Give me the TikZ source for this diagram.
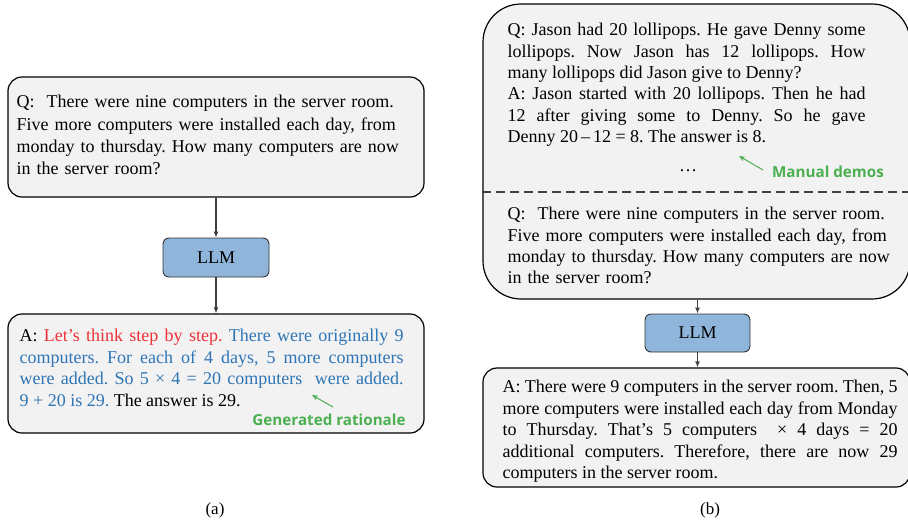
\documentclass[tikz,border=0pt]{standalone}
\usepackage{fontspec}
\setmainfont{Liberation Serif}
\newfontfamily\notefont{Open Sans}[BoldFont={* Bold}]
\usetikzlibrary{arrows.meta,positioning}
\frenchspacing

\definecolor{BoxColor}{RGB}{242,242,242}
\definecolor{LLMColor}{RGB}{143,181,219}
\definecolor{StepRed}{RGB}{237,50,55}
\definecolor{RatBlue}{RGB}{46,117,182}
\definecolor{NoteGreen}{RGB}{76,175,80}
\definecolor{LineGray}{RGB}{64,64,64}

\tikzset{
	textbox/.style={draw=black, fill=BoxColor, line width=1.2pt, rounded corners=14pt},
	llmbox/.style={draw=black!80, fill=LLMColor, line width=0.9pt, rounded corners=6pt,
		minimum width=106pt, minimum height=39pt, font=\fontsize{18}{20}\selectfont},
	bodytext/.style={inner sep=0pt, anchor=north west, font=\fontsize{18}{#1}\selectfont},
	bodytext/.default=21.7,
	flow/.style={-{Latex[length=6pt,width=5pt]}, draw=LineGray, line width=1.2pt},
	note/.style={font=\notefont\bfseries\fontsize{15.2}{17}\selectfont, text=NoteGreen, inner sep=0pt},
	notearrow/.style={-{Stealth[length=6pt,width=5pt]}, draw=NoteGreen, line width=1pt},
	caption/.style={font=\fontsize{17}{20}\selectfont}
}

\begin{document}
\begin{tikzpicture}[x=1pt, y=-1pt]

	\useasboundingbox (0,0) rectangle (908,523);

	% Zero-shot side (a)

	\node [textbox, minimum width=416pt, minimum height=120pt] (qa) at (216,137) {};
	\node [bodytext=22.3, text width=395pt, align=left] (qatext) at ([xshift=9pt,yshift=-18.7pt]qa.north west)
		{Q:\ \ There were nine computers in the server room.\\
		Five more computers were installed each day, from\\
		monday to thursday. How many computers are now\\
		in the server room?};

	\node [llmbox] (llma) at (216,257.5) {LLM};

	\node [textbox, minimum width=416pt, minimum height=119pt] (aa) at (216,373.5) {};
	\node [bodytext=21.7, text width=384pt, align=justify] (aatext) at ([xshift=12pt,yshift=-15.4pt]aa.north west)
		{A: \textcolor{StepRed}{Let’s think step by step.} \textcolor{RatBlue}{There were originally 9\linebreak
		computers. For each of 4 days, 5 more computers\linebreak
		were added. So 5 × 4 = 20 computers\ \ were added.\linebreak
		9 + 20 is 29.} The answer is 29.};

	\draw [flow] (qa) -- (llma);
	\draw [flow] (llma) -- (aa);

	\node [note] (ratnote) at (329,420) {Generated rationale};
	\coordinate (ratfoot) at (333,407);
	\coordinate (rattip) at (312,395);
	\draw [notearrow] (ratfoot) -- (rattip);

	\node [caption] (capa) at (215,510) {(a)};

	% Few-shot side (b)

	\node [textbox, rounded corners=38pt, minimum width=427pt, minimum height=295pt] (qb) at (696.5,151.5) {};
	\draw [dashed, dash pattern=on 9pt off 5pt, draw=LineGray, line width=1.2pt]
		([yshift=-40.5pt]qb.west) -- ([yshift=-40.5pt]qb.east);

	\node [bodytext=21.4, text width=358pt, align=justify] (demotext) at ([xshift=25pt,yshift=-19.7pt]qb.north west)
		{Q: Jason had 20 lollipops. He gave Denny some\linebreak
		lollipops. Now Jason has 12 lollipops. How\linebreak
		many lollipops did Jason give to Denny?\\
		A: Jason started with 20 lollipops. Then he had\linebreak
		12 after giving some to Denny. So he gave\linebreak
		Denny 20\,–\,12 = 8. The answer is 8.};
	\node [bodytext, anchor=center] (dots) at (688,171) {\dots};

	\node [note] (demonote) at (828,172) {Manual demos};
	\coordinate (demofoot) at (763,170);
	\coordinate (demotip) at (739,156);
	\draw [notearrow] (demofoot) -- (demotip);

	\node [bodytext=21.3, text width=395pt, align=left] (qbtext) at ([xshift=25pt,yshift=92.3pt]qb.south west)
		{Q:\ \ There were nine computers in the server room.\\
		Five more computers were installed each day, from\\
		monday to thursday. How many computers are now\\
		in the server room?};

	\node [llmbox, minimum width=105pt, minimum height=38pt] (llmb) at (697.5,333) {LLM};

	\node [textbox, minimum width=427pt, minimum height=119pt] (ab) at (696.5,427.5) {};
	\node [bodytext=21.5, text width=395pt, align=justify] (abtext) at ([xshift=20pt,yshift=-12.7pt]ab.north west)
		{A: There were 9 computers in the server room. Then, 5\linebreak
		more computers were installed each day from Monday\linebreak
		to Thursday. That’s 5 computers\ \ × 4 days = 20\linebreak
		additional computers. Therefore, there are now 29\linebreak
		computers in the server room.};

	\draw [flow] (llmb |- qb.south) -- (llmb.north);
	\draw [flow] (llmb) -- (llmb |- ab.north);

	\node [caption] (capb) at (710,510) {(b)};

\end{tikzpicture}
\end{document}
